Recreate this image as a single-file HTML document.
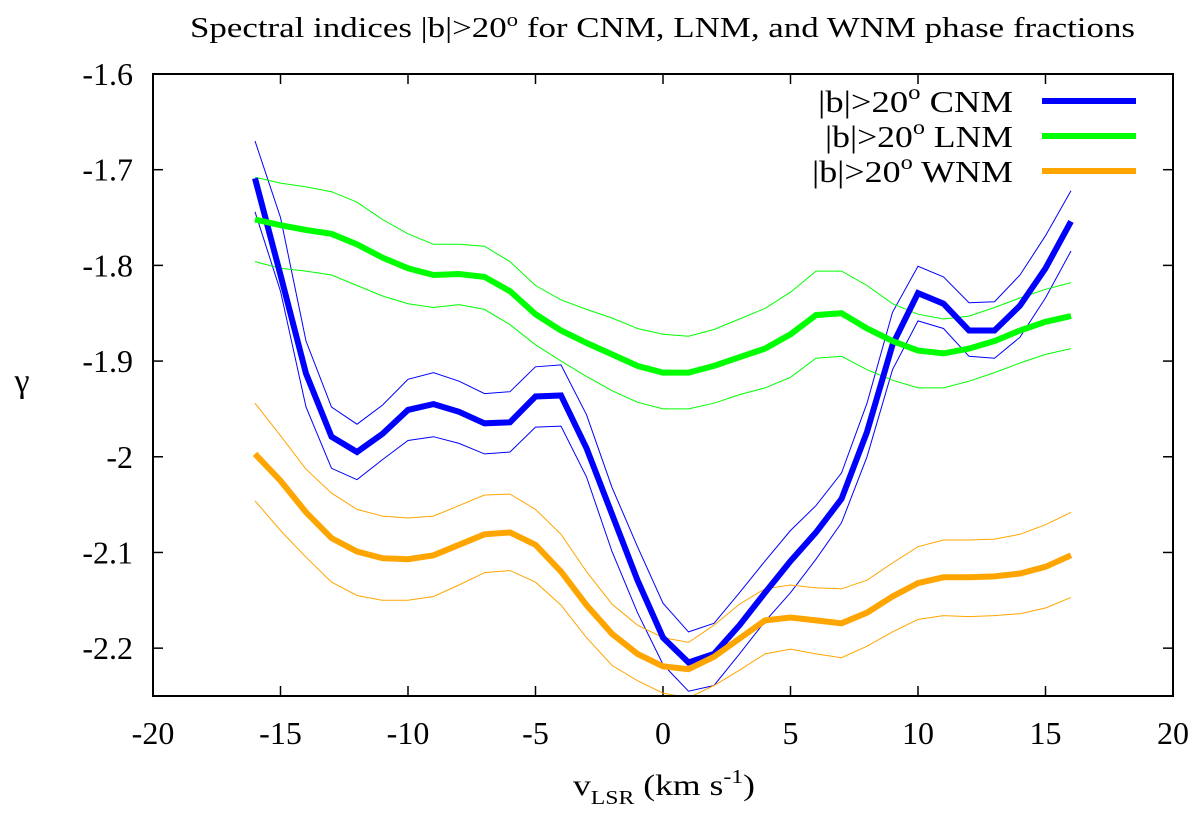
<!DOCTYPE html>
<html><head><meta charset="utf-8"><style>
html,body{margin:0;padding:0;background:#fff;}
svg{display:block;}
svg text{font-family:"Liberation Serif",serif;}
</style></head><body>
<svg id="chart" width="1200" height="818" viewBox="0 0 1200 818" xmlns="http://www.w3.org/2000/svg" font-family="Liberation Serif, serif">
<defs><clipPath id="plotclip"><rect x="153" y="74" width="1020" height="622"/></clipPath></defs>
<text x="190" y="37" font-size="29" textLength="945" lengthAdjust="spacingAndGlyphs">Spectral indices |b|&gt;20<tspan dy="-11" font-size="19">o</tspan><tspan dy="11"> for CNM, LNM, and WNM phase fractions</tspan></text>
<g id="axes"></g>
<g id="series" clip-path="url(#plotclip)"></g>
<rect x="153" y="74" width="1020" height="622" fill="none" stroke="#000" stroke-width="2"/>
<text x="22" y="392" font-size="34" text-anchor="middle">γ</text>
<text x="573" y="795" font-size="30" textLength="182" lengthAdjust="spacingAndGlyphs">v<tspan dy="9" font-size="20">LSR</tspan><tspan dy="-9"> (km s</tspan><tspan dy="-12" font-size="20">-1</tspan><tspan dy="12">)</tspan></text>
<g id="legend"></g>
</svg>
<script>
const xs = [-16,-15,-14,-13,-12,-11,-10,-9,-8,-7,-6,-5,-4,-3,-2,-1,0,1,2,3,4,5,6,7,8,9,10,11,12,13,14,15,16];
const cnm = [-1.709,-1.810,-1.913,-1.979,-1.995,-1.976,-1.951,-1.945,-1.953,-1.965,-1.964,-1.937,-1.936,-1.991,-2.060,-2.129,-2.189,-2.215,-2.206,-2.176,-2.142,-2.109,-2.079,-2.044,-1.974,-1.883,-1.829,-1.840,-1.868,-1.868,-1.842,-1.803,-1.754];
const cnmHi = [-1.670,-1.750,-1.879,-1.948,-1.966,-1.946,-1.919,-1.912,-1.921,-1.934,-1.932,-1.906,-1.904,-1.956,-2.032,-2.094,-2.153,-2.183,-2.174,-2.142,-2.109,-2.077,-2.051,-2.017,-1.944,-1.849,-1.801,-1.812,-1.839,-1.838,-1.810,-1.769,-1.722];
const cnmLo = [-1.744,-1.827,-1.948,-2.012,-2.024,-2.003,-1.983,-1.979,-1.986,-1.997,-1.995,-1.969,-1.968,-2.021,-2.099,-2.163,-2.217,-2.245,-2.239,-2.206,-2.172,-2.142,-2.107,-2.069,-2.000,-1.909,-1.858,-1.866,-1.895,-1.897,-1.875,-1.834,-1.785];
const lnm = [-1.752,-1.758,-1.763,-1.767,-1.778,-1.792,-1.803,-1.810,-1.809,-1.812,-1.827,-1.851,-1.868,-1.881,-1.893,-1.905,-1.912,-1.912,-1.905,-1.896,-1.887,-1.872,-1.852,-1.850,-1.866,-1.879,-1.889,-1.892,-1.887,-1.879,-1.868,-1.859,-1.853];
const lnmHi = [-1.708,-1.714,-1.718,-1.723,-1.734,-1.752,-1.767,-1.778,-1.778,-1.780,-1.796,-1.821,-1.836,-1.846,-1.855,-1.866,-1.872,-1.874,-1.867,-1.856,-1.845,-1.828,-1.806,-1.806,-1.821,-1.840,-1.851,-1.856,-1.853,-1.844,-1.834,-1.825,-1.818];
const lnmLo = [-1.796,-1.803,-1.806,-1.810,-1.821,-1.832,-1.840,-1.844,-1.841,-1.846,-1.862,-1.883,-1.900,-1.916,-1.931,-1.943,-1.950,-1.950,-1.944,-1.935,-1.928,-1.917,-1.897,-1.895,-1.909,-1.920,-1.928,-1.928,-1.921,-1.912,-1.902,-1.893,-1.887];
const wnm = [-1.997,-2.025,-2.058,-2.085,-2.099,-2.106,-2.107,-2.103,-2.092,-2.081,-2.079,-2.092,-2.120,-2.155,-2.185,-2.206,-2.219,-2.222,-2.209,-2.190,-2.171,-2.168,-2.171,-2.174,-2.163,-2.146,-2.132,-2.126,-2.126,-2.125,-2.122,-2.115,-2.103];
const wnmHi = [-1.944,-1.978,-2.013,-2.038,-2.055,-2.062,-2.064,-2.062,-2.051,-2.040,-2.039,-2.055,-2.081,-2.120,-2.154,-2.176,-2.189,-2.194,-2.176,-2.154,-2.138,-2.134,-2.137,-2.138,-2.129,-2.111,-2.094,-2.087,-2.087,-2.086,-2.081,-2.071,-2.058];
const wnmLo = [-2.046,-2.077,-2.105,-2.131,-2.145,-2.150,-2.150,-2.146,-2.134,-2.121,-2.119,-2.131,-2.155,-2.189,-2.218,-2.234,-2.247,-2.252,-2.239,-2.223,-2.206,-2.201,-2.206,-2.210,-2.198,-2.183,-2.170,-2.166,-2.167,-2.166,-2.164,-2.158,-2.147];
const xTicks = [-20,-15,-10,-5,0,5,10,15,20];
const yTicks = [-1.6,-1.7,-1.8,-1.9,-2.0,-2.1,-2.2];
const yTickLabels = ["-1.6","-1.7","-1.8","-1.9","-2","-2.1","-2.2"];
const legendLabels = ["CNM","LNM","WNM"];

const NS="http://www.w3.org/2000/svg";
const L=153,R=1173,T=74,B=696,XMIN=-20,XMAX=20,YMAX=-1.6,YMIN=-2.25;
function sx(v){return L+(v-XMIN)/(XMAX-XMIN)*(R-L);}
function sy(v){return T+(YMAX-v)/(YMAX-YMIN)*(B-T);}
function mk(tag,attrs,parent){const e=document.createElementNS(NS,tag);for(const k in attrs)e.setAttribute(k,attrs[k]);parent.appendChild(e);return e;}
const axes=document.getElementById('axes');
const SERIF='Liberation Serif, serif';
xTicks.forEach((t,i)=>{
  const x=sx(t);
  const a=mk('line',{x1:x,x2:x,y1:B,y2:B-10,stroke:'#000','stroke-width':1.5},axes);
  
  
  const b=mk('line',{x1:x,x2:x,y1:T,y2:T+10,stroke:'#000','stroke-width':1.5},axes);
  
  
  const tx=mk('text',{x:x,y:B+48,'font-size':32,'font-family':SERIF,'text-anchor':'middle'},axes);
  tx.textContent=String(t);
  
  
});
yTicks.forEach((t,i)=>{
  const y=sy(t);
  const a=mk('line',{x1:L,x2:L+10,y1:y,y2:y,stroke:'#000','stroke-width':1.5},axes);
  
  
  const b=mk('line',{x1:R,x2:R-10,y1:y,y2:y,stroke:'#000','stroke-width':1.5},axes);
  
  
  const tx=mk('text',{x:L-20,y:y+11,'font-size':32,'font-family':SERIF,'text-anchor':'end'},axes);
  tx.textContent=yTickLabels[i];
  
  
});
const series=document.getElementById('series');
function path(vals){return vals.map((v,i)=>(i?'L':'M')+sx(xs[i]).toFixed(1)+','+sy(v).toFixed(1)).join(' ');}
const defs=[
 ['cnm',cnm,cnmHi,cnmLo,'#0000ff'],
 ['lnm',lnm,lnmHi,lnmLo,'#00ff00'],
 ['wnm',wnm,wnmHi,wnmLo,'#ffa500']];
defs.forEach(d=>{
  const hi=mk('path',{d:path(d[2]),fill:'none',stroke:d[4],'stroke-width':1},series);
  
  
  const lo=mk('path',{d:path(d[3]),fill:'none',stroke:d[4],'stroke-width':1},series);
  
  
});
defs.forEach(d=>{
  const m=mk('path',{d:path(d[1]),fill:'none',stroke:d[4],'stroke-width':6,'stroke-linejoin':'miter'},series);
  
  
});
const legend=document.getElementById('legend');
const legendStart=[818,825,812];
defs.forEach((d,i)=>{
  const y=101+i*35;
  const tx=mk('text',{x:legendStart[i],y:y+11,'font-size':31,'font-family':SERIF,textLength:1013-legendStart[i],lengthAdjust:'spacingAndGlyphs'},legend);
  tx.innerHTML='|b|&gt;20<tspan dy="-13" font-size="21">o</tspan><tspan dy="13"> '+legendLabels[i]+'</tspan>';
  
  
  const ln=mk('line',{x1:1042,x2:1136,y1:y,y2:y,stroke:d[4],'stroke-width':6},legend);
  
  
});
</script>
</body></html>
